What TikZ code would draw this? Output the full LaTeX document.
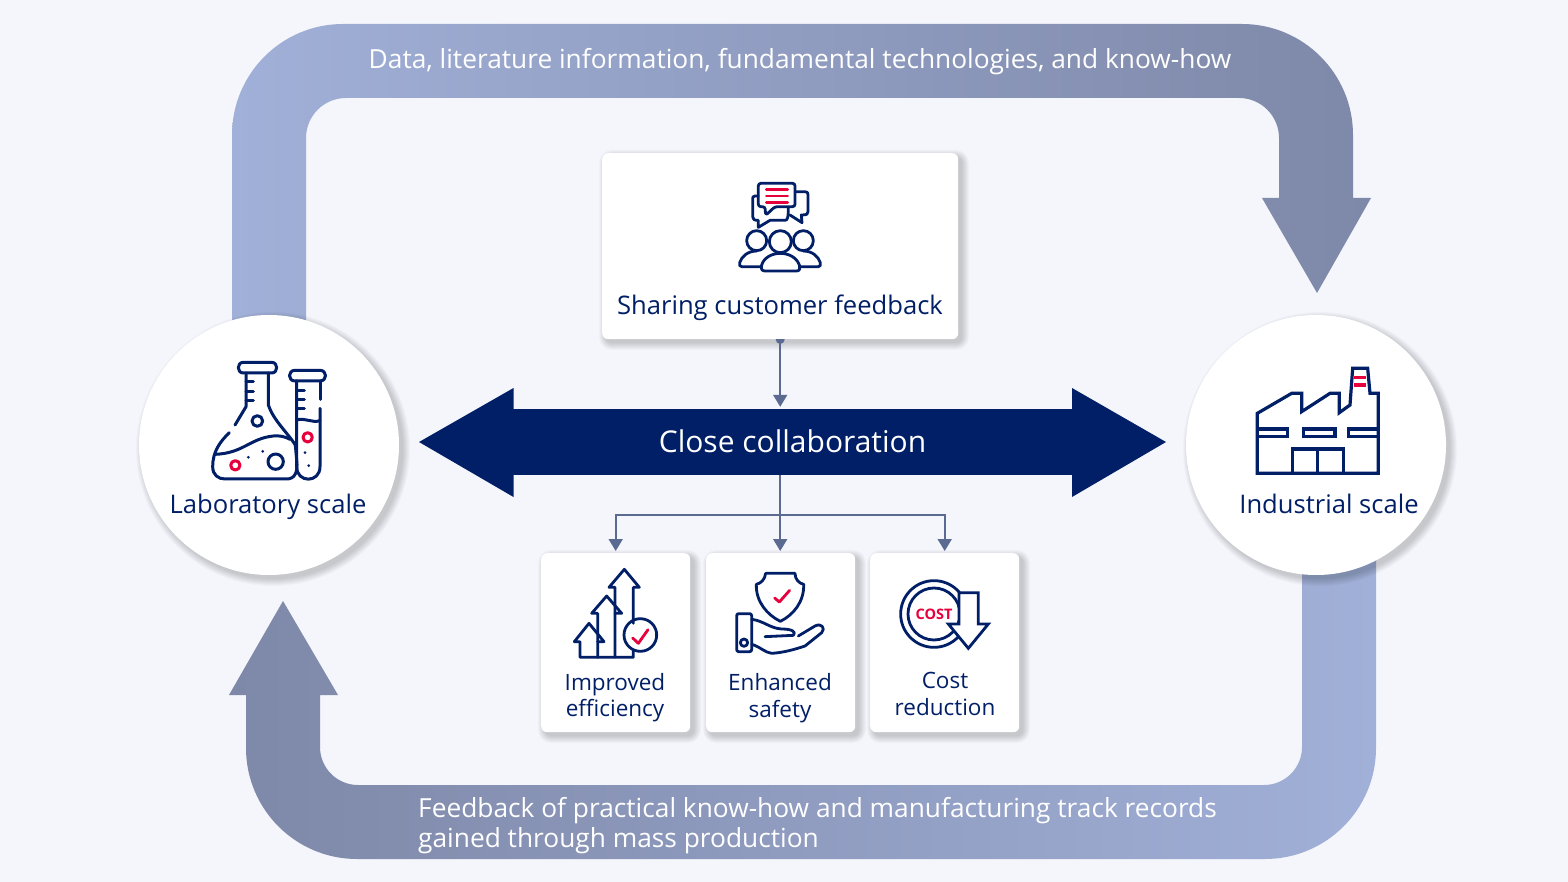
\documentclass[tikz,border=0pt]{standalone}
\usepackage{fontspec}
\setmainfont{Open Sans}
\usetikzlibrary{arrows.meta,calc}
\definecolor{bgc}{HTML}{F4F6FB}
\definecolor{navy}{HTML}{001F67}
\definecolor{redc}{HTML}{E6003C}
\definecolor{bandl}{HTML}{A1B0D8}
\definecolor{bandd}{HTML}{7E88A8}
\definecolor{conn}{HTML}{5A6A90}
% soft shadow: x, y, width, height, radius (pixels)
\newcommand{\softshade}[5]{%
  \foreach \dd in {7,6,5,4,3,2,1,0}{%
    \pgfmathsetmacro{\rr}{#5+\dd}%
    \fill[black,opacity=.023,rounded corners=\rr pt]
      ({#1+4-\dd},{#2+4-\dd}) rectangle ({#1+#3+4+\dd},{#2+#4+4+\dd});
  }}
\tikzset{
  card/.style={fill=white,rounded corners=6pt,inner sep=0pt,anchor=north west},
  disc/.style={fill=white,circle,inner sep=0pt,minimum size=260pt},
  label/.style={text=navy,font=\fontsize{25.6}{29}\selectfont,align=center,inner sep=0pt},
  slabel/.style={text=navy,font=\fontsize{22.5}{26.5}\selectfont,align=center,inner sep=0pt},
  wlabel/.style={text=white,font=\fontsize{26.3}{30}\selectfont,inner sep=0pt},
  link/.style={draw=conn,line width=1.8pt,-{Triangle[length=12pt,width=14pt]},shorten >=2pt},
  ic/.style={draw=navy,line width=3pt,line cap=round,line join=round},
  icr/.style={draw=redc,line width=3pt,line cap=round,line join=round},
  ics/.style={draw=navy,line width=2.8pt,line cap=round,line join=round},
  icrs/.style={draw=redc,line width=2.8pt,line cap=round,line join=round},
  zoomed/.style={x=.33333pt,y=-.33333pt}
}
\begin{document}
\begin{tikzpicture}[x=1pt,y=-1pt]
\useasboundingbox (0,0) rectangle (1568,882);
\fill[bgc] (0,0) rectangle (1568,882);
% loop bands
\path[left color=bandl,right color=bandd] (232,340) [rounded corners=111pt] -- (232,24) -- (1353,24) [sharp corners] -- (1353,198) -- (1371,198) -- (1317,293) -- (1262,198) -- (1279,198) [rounded corners=40pt] -- (1279,98) -- (306,98) [sharp corners] -- (306,340) -- cycle;
\path[left color=bandd,right color=bandl] (1376,545) [rounded corners=111pt] -- (1376,859) -- (246,859) [sharp corners] -- (246,695) -- (229,695) -- (283,601) -- (338,695) -- (320,695) [rounded corners=38pt] -- (320,785) -- (1302,785) [sharp corners] -- (1302,545) -- cycle;
\node[wlabel,anchor=base] (toptext) at (800,69) {Data, literature information, fundamental technologies, and know-how};
\node[wlabel,align=left,anchor=west] (bottext) at (418,826) {Feedback of practical know-how and manufacturing track records\\gained through mass production};
% discs
\softshade{139}{315}{260}{260}{130}
\softshade{1186}{315}{260}{260}{130}
\node[disc] (lab) at (269,445) {};
\node[disc] (ind) at (1316,445) {};
\node[label,anchor=base] (lablabel) at (268,513) {Laboratory scale};
\node[label,anchor=base] (indlabel) at (1329,513) {Industrial scale};
% cards
\softshade{602}{153}{356}{186}{6}
\softshade{541}{553}{149}{179}{6}
\softshade{706}{553}{149}{179}{6}
\softshade{870}{553}{149}{179}{6}
\node[card,minimum width=356pt,minimum height=186pt] (fb) at (602,153) {};
\node[card,minimum width=149pt,minimum height=179pt] (s1) at (541,553) {};
\node[card,minimum width=149pt,minimum height=179pt] (s2) at (706,553) {};
\node[card,minimum width=149pt,minimum height=179pt] (s3) at (870,553) {};
\node[label,anchor=base] (fblabel) at (780,315) {Sharing customer feedback};
\node[slabel] (s1label) at (615,697.5) {Improved\\efficiency};
\node[slabel] (s2label) at (780,698) {Enhanced\\safety};
\node[slabel] (s3label) at (945,694) {Cost\\reduction};
% collaboration arrow
\node[fill=navy,minimum width=559pt,minimum height=66pt,inner sep=0pt,text=white,font=\fontsize{30}{34}\selectfont] (collab) at (792.5,442) {\raisebox{1pt}{Close collaboration}};
\fill[navy] (513.5,388) -- (419,442) -- (513.5,497) -- cycle;
\fill[navy] (1072,388) -- (1166,442) -- (1072,497) -- cycle;
% connectors
\coordinate (bus) at ($(collab.south -| fb.south)+(0,40)$);
\begin{scope}
\clip (fb.south west) rectangle (fb.south east |- collab.north);
\fill[conn] (fb.south) circle (4.5pt);
\end{scope}
\draw[link] (fb.south) -- (fb.south |- collab.north);
\draw[link] (collab.south -| fb.south) -- (fb.south |- s2.north);
\draw[link] (bus) -| (s1.north);
\draw[link] (bus) -| (s3.north);
% flask icon
\begin{scope}[zoomed,shift={(140pt,-310pt)}]
\draw[ic] (310,157) -- (395,157) .. controls (415,157) and (415,189) .. (395,189) -- (310,189) .. controls (290,189) and (290,157) .. (310,157) -- cycle;
\draw[ic] (318,189) -- (318,290) -- (285,345);
\draw[ic] (268,368) .. controls (240,395) and (218,425) .. (218,470) .. controls (218,495) and (235,507) .. (255,507) -- (440,507) .. controls (462,507) and (475,490) .. (470,450) -- (466,405);
\draw[ic] (385,189) -- (385,285) .. controls (400,330) and (440,365) .. (466,405);
\draw[ic] (225,433) .. controls (310,430) and (330,385) .. (400,378) .. controls (420,376) and (435,380) .. (450,388);
\foreach \yy in {215,245,272} \draw[ic] (318,\yy) -- (340,\yy);
\draw[ic] (352,333) circle (16);
\draw[ic] (407,455) circle (23);
\draw[icr] (286,466) circle (14);
\fill[navy] (325,442) circle (4.5) (368,424) circle (4.5);
\draw[ic] (465,181) -- (540,181) .. controls (562,181) and (562,213) .. (540,213) -- (465,213) .. controls (443,213) and (443,181) .. (465,181) -- cycle;
\draw[ic] (470,213) -- (470,470) .. controls (470,520) and (540,520) .. (540,470) -- (540,295);
\draw[ic] (540,213) -- (540,268);
\draw[ic] (470,330) .. controls (495,322) and (515,340) .. (540,332);
\foreach \yy in {243,270,297} \draw[ic] (470,\yy) -- (493,\yy);
\draw[icr] (503,382) circle (14);
\fill[navy] (495,428) circle (4.5) (506,467) circle (4.5);
\end{scope}
% factory icon
\begin{scope}[zoomed,shift={(1180pt,-340pt)}]
\draw[ic,line width=3.2pt,line cap=butt,line join=miter] (232,400) -- (232,220) -- (335,160) -- (365,160) -- (365,215) -- (450,160) -- (478,160) -- (478,218) -- (510,195) -- (518,85) -- (563,85) -- (570,160) -- (595,160) -- (595,400) -- cycle;
\draw[ic,line width=3.2pt,line cap=butt,line join=miter] (232,267) -- (322,267) -- (322,290) -- (232,290);
\draw[ic,line width=3.2pt,line cap=butt,line join=miter] (370,267) rectangle (465,290);
\draw[ic,line width=3.2pt,line cap=butt,line join=miter] (595,267) -- (505,267) -- (505,290) -- (595,290);
\draw[ic,line width=3.2pt,line cap=butt,line join=miter] (337,400) -- (337,327) -- (490,327) -- (490,400);
\draw[ic,line width=3.2pt,line cap=butt] (413,327) -- (413,400);
\draw[icr,line width=3.6pt,line cap=butt] (522,113) -- (558,113);
\draw[icr,line width=3.6pt,line cap=butt] (522,135) -- (558,135);
\end{scope}
% feedback icon
\begin{scope}[zoomed,shift={(600pt,-150pt)}]
\draw[ics] (475,138) -- (465,138) .. controls (458,138) and (458,142) .. (458,148) -- (458,200) .. controls (458,208) and (462,211) .. (475,211) -- (475,232) -- (510,211) -- (555,211) .. controls (562,211) and (565,205) .. (565,172);
\draw[ics] (588,125) -- (615,125) .. controls (622,125) and (624,128) .. (624,135) -- (624,185) .. controls (624,192) and (622,195) .. (604,195) -- (606,218) -- (570,195);
\draw[ics,rounded corners=2.5pt] (475,100) -- (585,100) -- (585,170) -- (525,170) -- (497,196) -- (495,170) -- (475,170) -- cycle;
\foreach \yy in {118,138,157} \draw[icrs] (499,\yy) -- (563,\yy);
\draw[ics] (470,272) circle (30);
\draw[ics] (610,272) circle (30);
\draw[ics,fill=white] (541,275) circle (33);
\draw[ics] (485,350) -- (425,350) .. controls (418,350) and (418,345) .. (419,338) .. controls (425,318) and (445,303) .. (470,303);
\draw[ics] (597,350) -- (655,350) .. controls (662,350) and (662,345) .. (661,338) .. controls (655,318) and (635,303) .. (610,303);
\draw[ics,fill=white] (495,363) -- (590,363) .. controls (600,363) and (600,355) .. (598,345) .. controls (590,322) and (565,310) .. (541,310) .. controls (517,310) and (492,322) .. (485,345) .. controls (482,355) and (485,363) .. (495,363) -- cycle;
\end{scope}
% arrows + check, shield + hand
\begin{scope}[zoomed,shift={(535pt,-500pt)}]
\draw[ics] (295,370) -- (295,262) -- (313,262) -- (268,208) -- (222,262) -- (240,262) -- (240,472);
\draw[ics] (240,340) -- (260,340) -- (215,288) -- (170,340) -- (188,340) -- (188,472);
\draw[ics] (188,425) -- (207,425) -- (162,370) -- (118,425) -- (135,425) -- (135,472) -- (295,472) -- (295,450);
\draw[ics] (316,405) circle (49);
\draw[icrs] (293,414) -- (310,430) -- (339,389);
\draw[ics] (692,220) -- (780,220) .. controls (780,238) and (792,250) .. (806,253) .. controls (808,305) and (775,345) .. (736,364) .. controls (697,345) and (662,305) .. (664,253) .. controls (678,250) and (690,238) .. (692,220);
\draw[icrs] (719,294) -- (733,306) -- (764,271);
\draw[ics,rounded corners=2pt] (605,341) rectangle (650,455);
\draw[ics] (627,428) circle (11);
\draw[ics] (650,358) .. controls (685,362) and (705,385) .. (740,387) .. controls (770,387) and (785,395) .. (775,406) -- (690,410);
\draw[ics] (790,408) -- (840,378) .. controls (860,368) and (872,385) .. (860,398) -- (810,438) .. controls (780,448) and (745,458) .. (710,460) .. controls (690,458) and (675,440) .. (650,433);
\end{scope}
% cost icon
\begin{scope}[zoomed,shift={(860pt,-540pt)}]
\draw[ics] (222,222) circle (100);
\draw[ics] (222,222) circle (78);
\draw[ics,fill=white,line join=miter] (297,158) -- (355,158) -- (355,252) -- (385,252) -- (325,325) -- (265,252) -- (297,252) -- cycle;
\end{scope}
\node[text=redc,inner sep=0pt,font=\fontsize{14.5}{16}\selectfont\bfseries] (costword) at (934,614) {COST};
\end{tikzpicture}
\end{document}
